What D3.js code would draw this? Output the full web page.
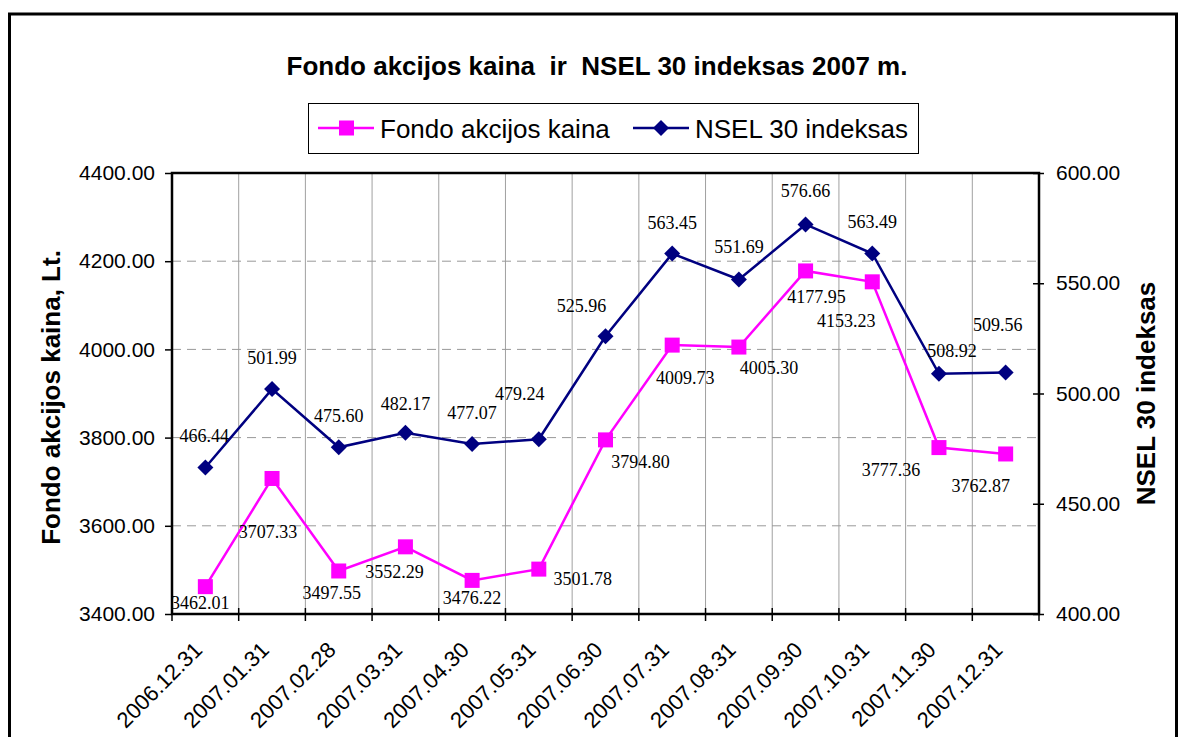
<!DOCTYPE html>
<html>
<head>
<meta charset="utf-8">
<script src="https://cdn.jsdelivr.net/npm/d3@7"></script>
<style>
  body { margin: 0; background: #fff; }
  svg { display: block; }
  text { font-family: Arial, 'Liberation Sans', sans-serif; }
  .lbl { font-family: 'Times New Roman', 'Liberation Serif', serif; font-size: 18px; }
</style>
</head>
<body>
<div id="chart"></div>
<script>
// categories and series
const dates = [
  '2006.12.31', '2007.01.31', '2007.02.28', '2007.03.31', '2007.04.30',
  '2007.05.31', '2007.06.30', '2007.07.31', '2007.08.31', '2007.09.30',
  '2007.10.31', '2007.11.30', '2007.12.31',
]
const fondoKaina = [
  3462.01, 3707.33, 3497.55, 3552.29, 3476.22, 3501.78, 3794.8, 4009.73,
  4005.3, 4177.95, 4153.23, 3777.36, 3762.87,
]
const nselIndeksas = [
  466.44, 501.99, 475.6, 482.17, 477.07, 479.24, 525.96, 563.45, 551.69,
  576.66, 563.49, 508.92, 509.56,
]
const leftTicks = [3400, 3600, 3800, 4000, 4200, 4400]
const rightTicks = [400, 450, 500, 550, 600]

// where excel left each data label, relative to its point
const fondoLabelShift = [
  [-5, 16], [-4, 54], [-7, 22], [-11, 25], [0, 18], [44, 10], [35, 22],
  [13, 33], [30, 21], [11, 26], [-26, 39], [-48, 22], [-25, 32],
]
const nselLabelShift = [
  [-1, -31], [0, -31], [0, -31], [0, -29], [0, -31], [-19, -45], [-24, -30],
  [0, -31], [0, -33], [0, -33], [0, -32], [13, -23], [-8, -47],
]

const width = 1185
const height = 737
const plot = { left: 172, right: 1039, top: 173, bottom: 614 }
const pink = '#ff00ff'
const navy = '#000080'

const svg = d3
  .select('#chart')
  .append('svg')
  .attr('width', width)
  .attr('height', height)

// outer frame (bottom edge runs past the picture)
svg
  .append('rect')
  .attr('x', 9.5)
  .attr('y', 14)
  .attr('width', 1167)
  .attr('height', 760)
  .attr('fill', 'none')
  .attr('stroke', '#000')
  .attr('stroke-width', 3)

svg
  .append('text')
  .attr('x', 597)
  .attr('y', 75)
  .attr('text-anchor', 'middle')
  .style('font-size', '26px')
  .style('font-weight', 'bold')
  .style('white-space', 'pre')
  .text('Fondo akcijos kaina  ir  NSEL 30 indeksas 2007 m.')

const xScale = d3
  .scaleBand()
  .domain(dates)
  .range([plot.left, plot.right])
  .padding(0)
const xc = d => xScale(d) + xScale.bandwidth() / 2

const yLeft = d3.scaleLinear().domain([3400, 4400]).range([plot.bottom, plot.top])
const yRight = d3.scaleLinear().domain([400, 600]).range([plot.bottom, plot.top])

const grid = svg.append('g')

// vertical grid at category boundaries
grid
  .selectAll('line.v')
  .data(dates.slice(1))
  .join('line')
  .attr('class', 'v')
  .attr('x1', d => xScale(d))
  .attr('x2', d => xScale(d))
  .attr('y1', plot.top)
  .attr('y2', plot.bottom)
  .attr('stroke', '#a0a0a0')
  .attr('stroke-width', 1)

grid
  .selectAll('line.h')
  .data(leftTicks.slice(1, -1))
  .join('line')
  .attr('class', 'h')
  .attr('x1', plot.left)
  .attr('x2', plot.right)
  .attr('y1', d => yLeft(d))
  .attr('y2', d => yLeft(d))
  .attr('stroke', '#999')
  .attr('stroke-width', 1)
  .attr('stroke-dasharray', '9,6')

// left axis
svg
  .append('g')
  .attr('transform', `translate(${plot.left},0)`)
  .call(
    d3
      .axisLeft(yLeft)
      .tickValues(leftTicks)
      .tickSize(7)
      .tickPadding(10)
      .tickFormat(d3.format('.2f')),
  )
  .call(g => {
    g.select('.domain').remove()
    g.selectAll('.tick line').attr('stroke', '#000').attr('stroke-width', 1.5)
    g.selectAll('.tick text')
      .attr('fill', '#000')
      .style('font-size', '21px')
      .style('font-family', 'Arial, Liberation Sans, sans-serif')
  })

// right axis
svg
  .append('g')
  .attr('transform', `translate(${plot.right},0)`)
  .call(
    d3
      .axisRight(yRight)
      .tickValues(rightTicks)
      .tickSizeInner(5)
      .tickSizeOuter(0)
      .tickPadding(12)
      .tickFormat(d3.format('.2f')),
  )
  .call(g => {
    g.select('.domain').remove()
    g.selectAll('.tick line')
      .attr('x1', -6)
      .attr('stroke', '#000')
      .attr('stroke-width', 1.5)
    g.selectAll('.tick text')
      .attr('fill', '#000')
      .style('font-size', '21px')
      .style('font-family', 'Arial, Liberation Sans, sans-serif')
  })

// bottom axis: ticks at the boundaries, labels at category centres
svg
  .append('g')
  .selectAll('line')
  .data(dates.concat(['end']))
  .join('line')
  .attr('x1', (d, i) => plot.left + i * xScale.bandwidth())
  .attr('x2', (d, i) => plot.left + i * xScale.bandwidth())
  .attr('y1', plot.bottom - 6)
  .attr('y2', plot.bottom + 7)
  .attr('stroke', '#000')
  .attr('stroke-width', 1.5)

svg
  .append('g')
  .selectAll('text')
  .data(dates)
  .join('text')
  .attr('transform', d => `translate(${xc(d) - 7},${plot.bottom + 32}) rotate(-45)`)
  .attr('text-anchor', 'end')
  .attr('dominant-baseline', 'central')
  .style('font-size', '22px')
  .text(d => d)

// plot border
svg
  .append('rect')
  .attr('x', plot.left)
  .attr('y', plot.top)
  .attr('width', plot.right - plot.left)
  .attr('height', plot.bottom - plot.top)
  .attr('fill', 'none')
  .attr('stroke', '#000')
  .attr('stroke-width', 2.5)

// axis titles
svg
  .append('text')
  .attr('transform', `translate(60, ${(plot.top + plot.bottom) / 2 + 4}) rotate(-90)`)
  .attr('text-anchor', 'middle')
  .style('font-size', '26px')
  .style('font-weight', 'bold')
  .text('Fondo akcijos kaina, Lt.')

svg
  .append('text')
  .attr('transform', `translate(1155, ${(plot.top + plot.bottom) / 2}) rotate(-90)`)
  .attr('text-anchor', 'middle')
  .style('font-size', '26px')
  .style('font-weight', 'bold')
  .text('NSEL 30 indeksas')

// series
const fondoData = dates.map((d, i) => ({ d, v: fondoKaina[i], s: fondoLabelShift[i] }))
const nselData = dates.map((d, i) => ({ d, v: nselIndeksas[i], s: nselLabelShift[i] }))

const diamond = (x, y, r) => `M${x},${y - r}L${x + r},${y}L${x},${y + r}L${x - r},${y}Z`

svg
  .append('path')
  .datum(nselData)
  .attr('fill', 'none')
  .attr('stroke', navy)
  .attr('stroke-width', 2.5)
  .attr('d', d3.line().x(p => xc(p.d)).y(p => yRight(p.v)))

svg
  .append('path')
  .datum(fondoData)
  .attr('fill', 'none')
  .attr('stroke', pink)
  .attr('stroke-width', 2.5)
  .attr('d', d3.line().x(p => xc(p.d)).y(p => yLeft(p.v)))

svg
  .append('g')
  .selectAll('path')
  .data(nselData)
  .join('path')
  .attr('d', p => diamond(xc(p.d), yRight(p.v), 8))
  .attr('fill', navy)

svg
  .append('g')
  .selectAll('rect')
  .data(fondoData)
  .join('rect')
  .attr('x', p => xc(p.d) - 7.5)
  .attr('y', p => yLeft(p.v) - 7.5)
  .attr('width', 15)
  .attr('height', 15)
  .attr('fill', pink)

// data labels
svg
  .append('g')
  .selectAll('text')
  .data(fondoData)
  .join('text')
  .attr('class', 'lbl')
  .attr('x', p => xc(p.d) + p.s[0])
  .attr('y', p => yLeft(p.v) + p.s[1])
  .attr('text-anchor', 'middle')
  .attr('dominant-baseline', 'central')
  .text(p => d3.format('.2f')(p.v))

svg
  .append('g')
  .selectAll('text')
  .data(nselData)
  .join('text')
  .attr('class', 'lbl')
  .attr('x', p => xc(p.d) + p.s[0])
  .attr('y', p => yRight(p.v) + p.s[1])
  .attr('text-anchor', 'middle')
  .attr('dominant-baseline', 'central')
  .text(p => d3.format('.2f')(p.v))

// legend
const legend = svg.append('g')
legend
  .append('rect')
  .attr('x', 308.5)
  .attr('y', 103.5)
  .attr('width', 610)
  .attr('height', 50)
  .attr('fill', '#fff')
  .attr('stroke', '#000')
  .attr('stroke-width', 1)

const legendItems = [
  { name: 'Fondo akcijos kaina', color: pink, x: 318, shape: 'square' },
  { name: 'NSEL 30 indeksas', color: navy, x: 633, shape: 'diamond' },
]
legendItems.forEach(it => {
  legend
    .append('line')
    .attr('x1', it.x)
    .attr('x2', it.x + 56)
    .attr('y1', 128)
    .attr('y2', 128)
    .attr('stroke', it.color)
    .attr('stroke-width', 2.5)
  if (it.shape === 'square') {
    legend
      .append('rect')
      .attr('x', it.x + 21)
      .attr('y', 120.5)
      .attr('width', 15)
      .attr('height', 15)
      .attr('fill', it.color)
  } else {
    legend.append('path').attr('d', diamond(it.x + 28, 128, 8)).attr('fill', it.color)
  }
  legend
    .append('text')
    .attr('x', it.x + 62)
    .attr('y', 138)
    .style('font-size', '26px')
    .text(it.name)
})
</script>
</body>
</html>
